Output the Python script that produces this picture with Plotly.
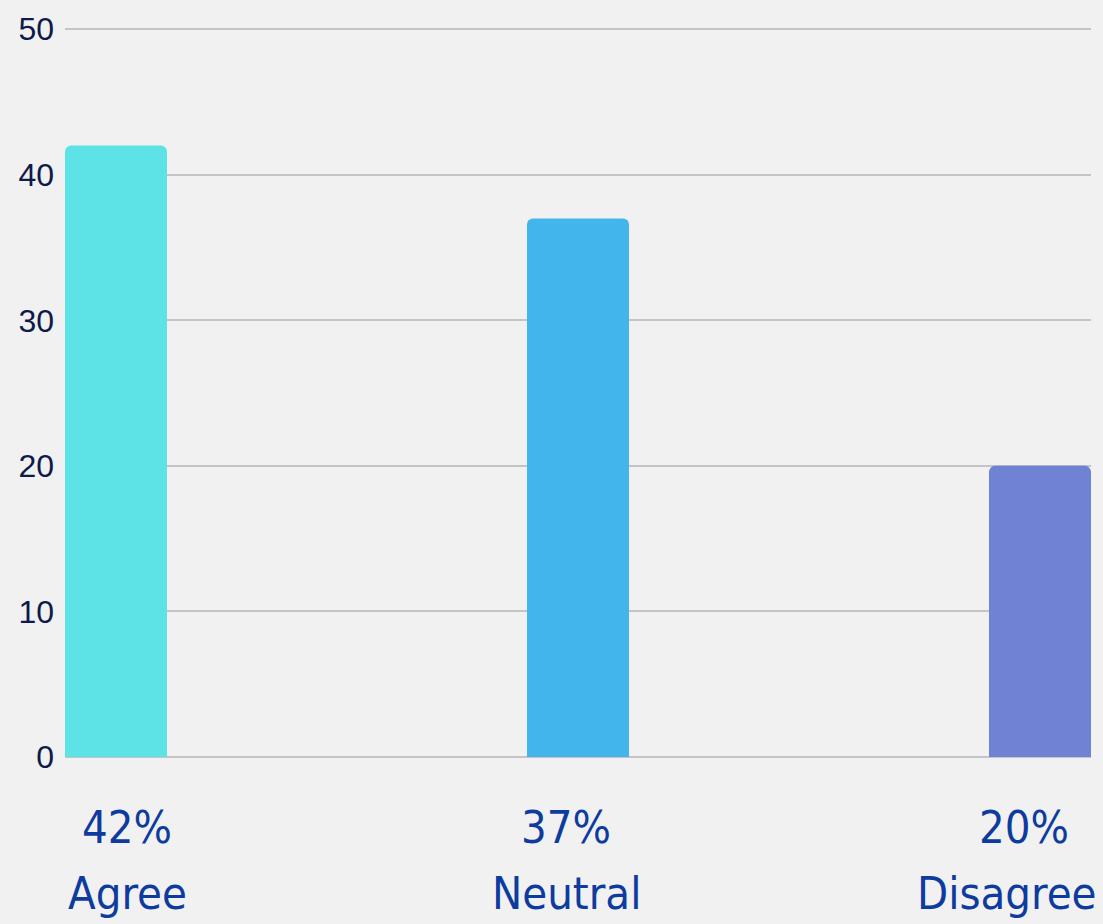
import plotly.graph_objects as go

categories = ["Agree", "Neutral", "Disagree"]
values = [42, 37, 20]
pct_labels = ["42%", "37%", "20%"]
colors = ["#5de3e6", "#42b6ec", "#6f82d4"]
y_ticks = [0, 10, 20, 30, 40, 50]

x_pos = list(range(len(categories)))
bar_w = 0.2208

fig = go.Figure(
    go.Bar(
        x=x_pos,
        y=values,
        width=bar_w,
        marker=dict(color=colors, cornerradius=6, line=dict(width=0)),
        hoverinfo="skip",
    )
)

label_font = dict(family="DejaVu Sans Condensed, sans-serif", size=45, color="#0d3b9e")
pct_shift = [11, -12, -16]
name_shift = [11, -12, 0]
name_anchor = ["center", "center", "right"]
name_xoff = [0, 0, 59]

for i, x in enumerate(x_pos):
    fig.add_annotation(
        x=x, y=0, xref="x", yref="y", text=pct_labels[i], showarrow=False,
        xanchor="center", yanchor="middle", xshift=pct_shift[i], yshift=-70,
        font=label_font,
    )
    fig.add_annotation(
        x=x, y=0, xref="x", yref="y", text=categories[i], showarrow=False,
        xanchor=name_anchor[i], yanchor="middle", xshift=name_shift[i] + name_xoff[i],
        yshift=-136, font=label_font,
    )

fig.update_layout(
    width=1103,
    height=924,
    margin=dict(l=65, r=12, t=28, b=167),
    paper_bgcolor="#f1f1f1",
    plot_bgcolor="#f1f1f1",
    showlegend=False,
    xaxis=dict(
        range=[-bar_w / 2, len(categories) - 1 + bar_w / 2],
        showticklabels=False,
        showgrid=False,
        zeroline=False,
        showline=False,
        ticks="",
        automargin=False,
    ),
    yaxis=dict(
        range=[0, 50.08],
        tickvals=y_ticks,
        showgrid=True,
        gridcolor="#c4c4c4",
        gridwidth=2,
        zeroline=True,
        zerolinecolor="#c4c4c4",
        zerolinewidth=2,
        showline=False,
        ticks="",
        ticklabelstandoff=10,
        automargin=False,
        tickfont=dict(family="Liberation Sans, Arial, sans-serif", size=32, color="#0e1a4a"),
    ),
)

fig.write_html(
    "out.html",
    config={"displayModeBar": False},
    post_script="document.body.style.margin='0';",
)
